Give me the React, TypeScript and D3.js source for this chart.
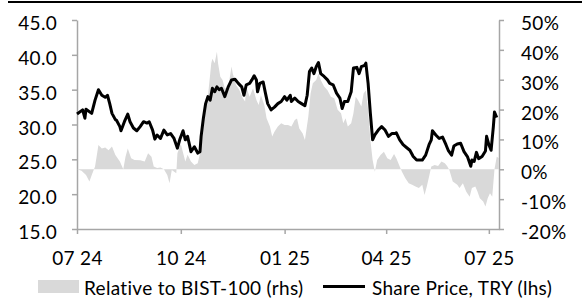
import React, {useEffect, useRef} from "react";
import * as d3 from "d3";

// share price, TRY (left axis)
const sharePrice: [string, number][] = [
  ["2024-07-01", 31.5], ["2024-07-06", 32.1], ["2024-07-08", 30.9], ["2024-07-09", 32.2],
  ["2024-07-14", 31.6], ["2024-07-17", 33.5], ["2024-07-20", 35.0], ["2024-07-23", 34.2],
  ["2024-07-26", 33.9], ["2024-07-28", 34.2], ["2024-07-30", 33.0], ["2024-08-01", 31.6],
  ["2024-08-04", 30.7], ["2024-08-05", 30.6], ["2024-08-08", 29.7], ["2024-08-09", 29.1],
  ["2024-08-12", 30.4], ["2024-08-15", 31.5], ["2024-08-17", 30.4], ["2024-08-20", 29.5],
  ["2024-08-23", 29.1], ["2024-08-26", 29.7], ["2024-08-29", 30.4], ["2024-09-01", 30.2],
  ["2024-09-03", 30.4], ["2024-09-06", 29.2], ["2024-09-08", 27.9], ["2024-09-10", 28.5],
  ["2024-09-13", 28.0], ["2024-09-16", 29.2], ["2024-09-19", 28.5], ["2024-09-22", 28.7],
  ["2024-09-25", 28.0], ["2024-09-28", 26.6], ["2024-09-30", 27.8], ["2024-10-03", 29.1],
  ["2024-10-05", 27.8], ["2024-10-07", 28.3], ["2024-10-10", 26.1], ["2024-10-13", 26.8],
  ["2024-10-16", 25.9], ["2024-10-18", 26.1], ["2024-10-19", 28.3], ["2024-10-21", 30.9],
  ["2024-10-23", 33.0], ["2024-10-25", 34.0], ["2024-10-27", 33.5], ["2024-10-29", 35.2],
  ["2024-10-31", 34.7], ["2024-11-02", 35.4], ["2024-11-04", 35.0], ["2024-11-06", 35.2],
  ["2024-11-09", 34.0], ["2024-11-12", 35.4], ["2024-11-15", 36.4], ["2024-11-18", 36.5],
  ["2024-11-21", 35.9], ["2024-11-24", 35.4], ["2024-11-26", 34.2], ["2024-11-28", 35.7],
  ["2024-12-01", 35.9], ["2024-12-03", 36.4], ["2024-12-05", 37.0], ["2024-12-07", 36.4],
  ["2024-12-08", 34.7], ["2024-12-10", 35.9], ["2024-12-13", 36.1], ["2024-12-15", 34.5],
  ["2024-12-17", 33.0], ["2024-12-20", 32.1], ["2024-12-23", 32.5], ["2024-12-26", 33.0],
  ["2024-12-29", 33.3], ["2025-01-01", 34.0], ["2025-01-03", 33.5], ["2025-01-06", 34.2],
  ["2025-01-07", 33.3], ["2025-01-10", 33.8], ["2025-01-13", 33.3], ["2025-01-16", 33.0],
  ["2025-01-19", 32.7], ["2025-01-21", 34.2], ["2025-01-23", 37.6], ["2025-01-25", 38.1],
  ["2025-01-27", 37.3], ["2025-01-29", 38.3], ["2025-01-31", 38.9], ["2025-02-02", 37.3],
  ["2025-02-05", 36.9], ["2025-02-08", 36.4], ["2025-02-10", 35.9], ["2025-02-13", 35.7],
  ["2025-02-16", 34.5], ["2025-02-19", 33.8], ["2025-02-21", 32.3], ["2025-02-23", 33.3],
  ["2025-02-26", 33.3], ["2025-03-01", 34.7], ["2025-03-03", 38.1], ["2025-03-06", 38.2],
  ["2025-03-08", 37.3], ["2025-03-10", 38.3], ["2025-03-13", 38.5], ["2025-03-14", 38.8],
  ["2025-03-16", 35.9], ["2025-03-18", 31.6], ["2025-03-20", 27.8], ["2025-03-22", 28.5],
  ["2025-03-25", 29.2], ["2025-03-28", 29.7], ["2025-03-31", 29.2], ["2025-04-03", 28.3],
  ["2025-04-06", 28.7], ["2025-04-09", 28.7], ["2025-04-10", 28.8], ["2025-04-13", 27.8],
  ["2025-04-16", 27.1], ["2025-04-19", 26.7], ["2025-04-22", 26.3], ["2025-04-25", 25.4],
  ["2025-04-28", 24.9], ["2025-05-03", 24.9], ["2025-05-06", 25.6], ["2025-05-09", 27.1],
  ["2025-05-11", 27.8], ["2025-05-12", 29.1], ["2025-05-15", 28.5], ["2025-05-18", 28.0],
  ["2025-05-21", 28.2], ["2025-05-24", 27.1], ["2025-05-26", 26.3], ["2025-05-29", 25.6],
  ["2025-05-31", 26.9], ["2025-06-03", 27.2], ["2025-06-06", 27.3], ["2025-06-09", 26.1],
  ["2025-06-12", 25.4], ["2025-06-15", 24.0], ["2025-06-16", 24.9], ["2025-06-18", 24.7],
  ["2025-06-20", 26.0], ["2025-06-22", 25.1], ["2025-06-25", 25.4], ["2025-06-28", 26.2],
  ["2025-06-29", 28.3], ["2025-07-01", 27.1], ["2025-07-03", 26.3], ["2025-07-05", 29.7],
  ["2025-07-06", 31.8], ["2025-07-08", 31.0],
];

// relative to BIST-100, % (right axis)
const relativeBist: [string, number][] = [
  ["2024-07-01", 0], ["2024-07-05", -0.5], ["2024-07-09", -1.9], ["2024-07-12", -4.1],
  ["2024-07-14", -2.0], ["2024-07-17", 0.9], ["2024-07-20", 8.1], ["2024-07-23", 7.0],
  ["2024-07-26", 7.3], ["2024-07-29", 6.4], ["2024-08-01", 7.6], ["2024-08-04", 4.8],
  ["2024-08-08", 2.6], ["2024-08-11", 0], ["2024-08-13", 4.2], ["2024-08-15", 7.0],
  ["2024-08-18", 3.7], ["2024-08-21", 3.1], ["2024-08-26", 3.0], ["2024-08-30", 2.6],
  ["2024-09-02", 5.4], ["2024-09-05", 4.2], ["2024-09-07", 0.9], ["2024-09-10", 0.4],
  ["2024-09-13", 0.6], ["2024-09-16", 0], ["2024-09-19", -1.9], ["2024-09-21", -4.7],
  ["2024-09-23", -0.2], ["2024-09-27", -1.3], ["2024-09-28", 5.4], ["2024-10-01", 8.5],
  ["2024-10-03", 5.5], ["2024-10-05", 2.6], ["2024-10-07", 4.9], ["2024-10-10", 2.6],
  ["2024-10-13", 1.4], ["2024-10-16", 2.0], ["2024-10-18", 5.4], ["2024-10-21", 16.5],
  ["2024-10-23", 21.0], ["2024-10-25", 24.3], ["2024-10-28", 35.5], ["2024-10-29", 37.0],
  ["2024-10-31", 35.5], ["2024-11-02", 39.4], ["2024-11-03", 35.5], ["2024-11-05", 31.0],
  ["2024-11-07", 29.9], ["2024-11-09", 27.1], ["2024-11-12", 27.6], ["2024-11-15", 34.4],
  ["2024-11-16", 32.2], ["2024-11-19", 28.2], ["2024-11-22", 26.5], ["2024-11-25", 23.8],
  ["2024-11-27", 22.7], ["2024-11-28", 27.6], ["2024-12-01", 24.3], ["2024-12-04", 27.1],
  ["2024-12-07", 23.2], ["2024-12-09", 21.5], ["2024-12-11", 24.8], ["2024-12-14", 21.5],
  ["2024-12-16", 17.1], ["2024-12-19", 14.3], ["2024-12-21", 11.0], ["2024-12-23", 12.6],
  ["2024-12-26", 14.3], ["2024-12-29", 15.4], ["2025-01-01", 14.8], ["2025-01-04", 14.8],
  ["2025-01-07", 14.3], ["2025-01-10", 16.5], ["2025-01-12", 17.0], ["2025-01-14", 13.7],
  ["2025-01-17", 12.0], ["2025-01-19", 9.8], ["2025-01-22", 17.6], ["2025-01-24", 25.4],
  ["2025-01-26", 28.8], ["2025-01-29", 29.9], ["2025-01-31", 32.1], ["2025-02-02", 29.9],
  ["2025-02-05", 27.7], ["2025-02-08", 26.5], ["2025-02-11", 24.3], ["2025-02-14", 23.8],
  ["2025-02-17", 19.9], ["2025-02-20", 18.8], ["2025-02-22", 15.4], ["2025-02-24", 17.1],
  ["2025-02-26", 14.3], ["2025-03-01", 15.4], ["2025-03-03", 18.8], ["2025-03-05", 24.3],
  ["2025-03-07", 23.2], ["2025-03-10", 21.0], ["2025-03-12", 25.4], ["2025-03-14", 26.5],
  ["2025-03-16", 19.9], ["2025-03-18", 9.8], ["2025-03-20", 3.1], ["2025-03-22", -0.8],
  ["2025-03-24", 3.1], ["2025-03-27", 4.8], ["2025-03-30", 5.9], ["2025-04-02", 3.7],
  ["2025-04-05", 3.1], ["2025-04-08", 5.1], ["2025-04-10", 3.7], ["2025-04-13", 0.9],
  ["2025-04-15", -0.8], ["2025-04-18", -3.0], ["2025-04-21", -4.7], ["2025-04-24", -5.2],
  ["2025-04-27", -5.8], ["2025-04-30", -6.3], ["2025-05-03", -5.2], ["2025-05-05", -8.6],
  ["2025-05-07", -5.8], ["2025-05-09", -2.5], ["2025-05-11", 0.9], ["2025-05-14", 1.4],
  ["2025-05-17", 1.1], ["2025-05-20", 2.6], ["2025-05-23", 2.0], ["2025-05-25", 1.1],
  ["2025-05-27", -0.2], ["2025-05-30", -4.1], ["2025-06-03", -5.2], ["2025-06-05", -6.3],
  ["2025-06-08", -4.7], ["2025-06-11", -7.5], ["2025-06-14", -9.2], ["2025-06-16", -6.3],
  ["2025-06-19", -5.8], ["2025-06-21", -7.5], ["2025-06-23", -9.7], ["2025-06-26", -10.8],
  ["2025-06-28", -12.5], ["2025-06-30", -9.7], ["2025-07-02", -8.0], ["2025-07-04", -9.2],
  ["2025-07-06", 0], ["2025-07-08", 4.2], ["2025-07-10", 3.7],
];

const xTickDates = ["2024-07-01", "2024-10-01", "2025-01-01", "2025-04-01", "2025-07-01"];
const leftTicks = [15, 20, 25, 30, 35, 40, 45];
const rightTicks = [-20, -10, 0, 10, 20, 30, 40, 50];
const legendLabels = ["Relative to BIST-100 (rhs)", "Share Price, TRY (lhs)"];

const FONT = "Lato, 'Liberation Sans', sans-serif";
const FONT_SIZE = 19;
const AXIS_GREY = "#a6a6a6";
const AREA_GREY = "#d9d9d9";

function createChart(el: SVGSVGElement) {
  const svg = d3.select(el);
  svg.selectAll("*").remove();
  const parse = d3.timeParse("%Y-%m-%d");

  const left = 77, right = 499, top = 20, bottom = 229;

  const x = d3
    .scaleTime()
    .domain([parse("2024-07-01")!, parse("2025-07-10")!])
    .range([left, right]);
  const yL = d3.scaleLinear().domain([15, 45]).range([bottom, top]);
  const yR = d3.scaleLinear().domain([-20, 50]).range([bottom, top]);

  // black rule at the top
  svg.append("line")
    .attr("x1", 8).attr("x2", 582).attr("y1", 2).attr("y2", 2)
    .attr("stroke", "#000").attr("stroke-width", 2);

  const styleAxis = (g: any) => {
    g.attr("font-family", FONT).attr("font-size", FONT_SIZE);
    g.selectAll("path, line").attr("stroke", AXIS_GREY).attr("stroke-width", 1.5);
    g.selectAll("text").attr("fill", "#000").attr("letter-spacing", 0.3);
  };

  // left axis
  svg.append("g")
    .attr("transform", `translate(${left},0)`)
    .call(d3.axisLeft(yL).tickValues(leftTicks).tickSize(5).tickSizeOuter(0)
      .tickPadding(15).tickFormat((d: any) => d3.format(".1f")(d)))
    .call(styleAxis)
    .selectAll("text").attr("dy", "0.5em");

  // right axis
  svg.append("g")
    .attr("transform", `translate(${right},0)`)
    .call(d3.axisRight(yR).tickValues(rightTicks).tickSize(5).tickSizeOuter(0)
      .tickPadding(17).tickFormat((d: any) => `${d}%`))
    .call(styleAxis)
    .selectAll("text").attr("dy", "0.5em");

  // bottom axis
  svg.append("g")
    .attr("transform", `translate(0,${bottom})`)
    .call(d3.axisBottom(x).tickValues(xTickDates.map((d) => parse(d)!)).tickSize(5)
      .tickSizeOuter(0).tickFormat((d: any) => d3.timeFormat("%m %y")(d)))
    .call(styleAxis)
    .selectAll("text").attr("y", 36).attr("dy", 0);

  // relative performance area
  const rel = relativeBist.map(([d, v]) => ({date: parse(d)!, v}));
  svg.append("path")
    .datum(rel)
    .attr("fill", AREA_GREY)
    .attr("d", d3.area<any>().x((d) => x(d.date)).y0(yR(0)).y1((d) => yR(d.v)));

  // share price line
  const price = sharePrice.map(([d, v]) => ({date: parse(d)!, v}));
  svg.append("path")
    .datum(price)
    .attr("fill", "none")
    .attr("stroke", "#000")
    .attr("stroke-width", 3)
    .attr("stroke-linejoin", "round")
    .attr("d", d3.line<any>().x((d) => x(d.date)).y((d) => yL(d.v)));

  // legend
  const legend = svg.append("g")
    .attr("font-family", FONT).attr("font-size", FONT_SIZE).attr("letter-spacing", 0.3);
  legend.append("rect")
    .attr("x", 38).attr("y", 280).attr("width", 41).attr("height", 13)
    .attr("fill", AREA_GREY);
  legend.append("text").attr("x", 84).attr("y", 295).text(legendLabels[0]);
  legend.append("line")
    .attr("x1", 323).attr("x2", 365).attr("y1", 286.5).attr("y2", 286.5)
    .attr("stroke", "#000").attr("stroke-width", 3);
  legend.append("text").attr("x", 372).attr("y", 295).text(legendLabels[1]);
}

export default function App() {
  const ref = useRef<SVGSVGElement>(null);
  useEffect(() => {
    if (ref.current) createChart(ref.current);
  }, []);

  return (
    <div style={{position: "absolute", left: 0, top: 0}}>
      <svg ref={ref} width={582} height={300} style={{display: "block"}}></svg>
    </div>
  );
}
